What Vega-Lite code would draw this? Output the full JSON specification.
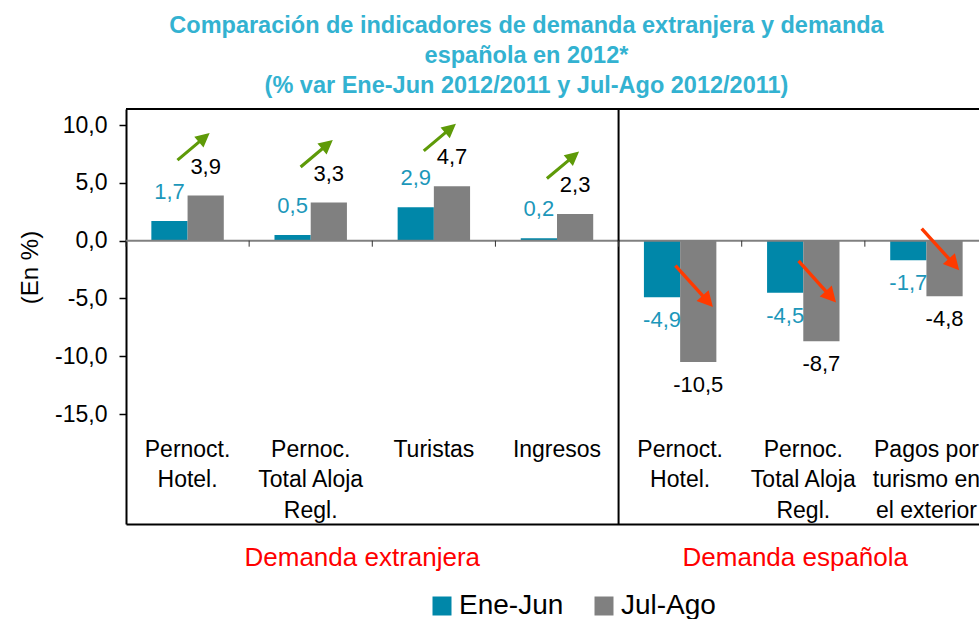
{
  "$schema": "https://vega.github.io/schema/vega-lite/v6.json",
  "autosize": {"type": "none"},
  "padding": {"left": 126, "top": 109, "right": 0, "bottom": 95},
  "width": 853,
  "height": 415,
  "background": "white",
  "title": {
    "text": ["Comparación de indicadores de demanda extranjera y demanda", "española en 2012*", "(% var Ene-Jun 2012/2011 y Jul-Ago 2012/2011)"],
    "font": "Liberation Sans",
    "fontSize": 23.5,
    "fontWeight": "bold",
    "color": "#33B2D1",
    "lineHeight": 30,
    "anchor": "middle",
    "frame": "group",
    "dx": -26,
    "offset": 11
  },
  "datasets": {
    "barras": [
      {"clave": "E1", "grupo": "Demanda extranjera", "indicador": "Pernoct.\nHotel.", "periodo": "Ene-Jun", "valor": 1.7},
      {"clave": "E1", "grupo": "Demanda extranjera", "indicador": "Pernoct.\nHotel.", "periodo": "Jul-Ago", "valor": 3.9},
      {"clave": "E2", "grupo": "Demanda extranjera", "indicador": "Pernoc.\nTotal Aloja\nRegl.", "periodo": "Ene-Jun", "valor": 0.5},
      {"clave": "E2", "grupo": "Demanda extranjera", "indicador": "Pernoc.\nTotal Aloja\nRegl.", "periodo": "Jul-Ago", "valor": 3.3},
      {"clave": "E3", "grupo": "Demanda extranjera", "indicador": "Turistas", "periodo": "Ene-Jun", "valor": 2.9},
      {"clave": "E3", "grupo": "Demanda extranjera", "indicador": "Turistas", "periodo": "Jul-Ago", "valor": 4.7},
      {"clave": "E4", "grupo": "Demanda extranjera", "indicador": "Ingresos", "periodo": "Ene-Jun", "valor": 0.2},
      {"clave": "E4", "grupo": "Demanda extranjera", "indicador": "Ingresos", "periodo": "Jul-Ago", "valor": 2.3},
      {"clave": "S1", "grupo": "Demanda española", "indicador": "Pernoct.\nHotel.", "periodo": "Ene-Jun", "valor": -4.9},
      {"clave": "S1", "grupo": "Demanda española", "indicador": "Pernoct.\nHotel.", "periodo": "Jul-Ago", "valor": -10.5},
      {"clave": "S2", "grupo": "Demanda española", "indicador": "Pernoc.\nTotal Aloja\nRegl.", "periodo": "Ene-Jun", "valor": -4.5},
      {"clave": "S2", "grupo": "Demanda española", "indicador": "Pernoc.\nTotal Aloja\nRegl.", "periodo": "Jul-Ago", "valor": -8.7},
      {"clave": "S3", "grupo": "Demanda española", "indicador": "Pagos por\nturismo en\nel exterior", "periodo": "Ene-Jun", "valor": -1.7},
      {"clave": "S3", "grupo": "Demanda española", "indicador": "Pagos por\nturismo en\nel exterior", "periodo": "Jul-Ago", "valor": -4.8}
    ],
    "grupos": [
      {"grupo": "Demanda extranjera"},
      {"grupo": "Demanda española"}
    ]
  },
  "data": {"name": "barras"},
  "layer": [
    {
      "mark": {"type": "bar"},
      "encoding": {
        "x": {
          "field": "clave", "type": "nominal",
          "scale": {"domain": ["E1", "E2", "E3", "E4", "S1", "S2", "S3"], "range": [0, 862], "paddingInner": 0, "paddingOuter": 0},
          "axis": {"labels": false, "ticks": false, "domain": true, "domainColor": "#000000", "domainWidth": 2, "title": null, "grid": false}
        },
        "xOffset": {
          "field": "periodo", "type": "nominal",
          "scale": {"domain": ["Ene-Jun", "Jul-Ago"], "paddingInner": 0, "paddingOuter": 0.7}
        },
        "y": {
          "field": "valor", "type": "quantitative",
          "title": "(En %)",
          "scale": {"domain": [-24.51, 11.39], "nice": false, "zero": false},
          "axis": {
            "values": [-15, -10, -5, 0, 5, 10],
            "format": ".1f",
            "grid": false,
            "domainColor": "#000000", "domainWidth": 2,
            "tickColor": "#000000", "tickSize": 7, "tickWidth": 1.5,
            "labelFontSize": 23, "labelColor": "#000000", "labelPadding": 12,
            "title": "(En %)",
            "titleFontSize": 24, "titleFontWeight": "normal", "titleColor": "#000000",
            "titleAngle": 270, "titleX": -96, "titleY": 158, "titleAlign": "center", "titleBaseline": "middle"
          }
        },
        "color": {
          "field": "periodo", "type": "nominal",
          "scale": {"domain": ["Ene-Jun", "Jul-Ago"], "range": ["#0087A9", "#808080"]},
          "legend": {
            "orient": "none", "legendX": 302, "legendY": 483, "direction": "horizontal",
            "title": null, "symbolType": "square", "symbolSize": 361, "symbolStrokeWidth": 0,
            "labelFontSize": 28, "labelColor": "#000000", "labelOffset": 3, "columnPadding": 26, "padding": 0
          }
        }
      }
    },
    {
      "data": {"values": [{}]},
      "mark": {"type": "rule", "color": "#808080", "strokeWidth": 2},
      "encoding": {"y": {"datum": 0, "type": "quantitative"}}
    },
    {
      "data": {"values": [{}]},
      "mark": {"type": "rule", "color": "#000000", "strokeWidth": 2},
      "encoding": {"y": {"datum": 11.39, "type": "quantitative"}}
    },
    {
      "data": {"values": [{}]},
      "mark": {"type": "rule", "color": "#000000", "strokeWidth": 2},
      "encoding": {"x": {"datum": "S1", "type": "nominal", "bandPosition": 0}}
    },
    {
      "transform": [{"filter": "datum.periodo === 'Ene-Jun'"}],
      "mark": {"type": "rule", "color": "#333333", "strokeWidth": 1},
      "encoding": {
        "x": {"field": "clave", "type": "nominal", "bandPosition": 0},
        "y": {"datum": 0, "type": "quantitative"},
        "y2": {"datum": -0.52}
      }
    },
    {
      "transform": [{"filter": "datum.periodo === 'Ene-Jun'"}],
      "mark": {"type": "text", "fontSize": 23, "color": "#000000", "align": "center", "baseline": "alphabetic", "lineBreak": "\n", "lineHeight": 30.3},
      "encoding": {
        "x": {"field": "clave", "type": "nominal"},
        "y": {"datum": -18.72, "type": "quantitative"},
        "text": {"field": "indicador"}
      }
    },
    {
      "data": {"name": "grupos"},
      "transform": [{"filter": "datum.grupo === 'Demanda extranjera'"}],
      "mark": {"type": "text", "fontSize": 26, "color": "#FF0000", "align": "center", "baseline": "alphabetic", "dx": -10},
      "encoding": {
        "x": {"datum": "E2", "type": "nominal", "bandPosition": 1},
        "y": {"datum": -28.12, "type": "quantitative"},
        "text": {"field": "grupo"}
      }
    },
    {
      "data": {"name": "grupos"},
      "transform": [{"filter": "datum.grupo === 'Demanda española'"}],
      "mark": {"type": "text", "fontSize": 26, "color": "#FF0000", "align": "center", "baseline": "alphabetic", "dx": -8},
      "encoding": {
        "x": {"datum": "S2", "type": "nominal", "bandPosition": 0.5},
        "y": {"datum": -28.12, "type": "quantitative"},
        "text": {"field": "grupo"}
      }
    },
    {
      "transform": [{"filter": "datum.valor >= 0"}],
      "mark": {"type": "text", "fontSize": 22, "align": "center", "baseline": "middle", "dy": -29},
      "encoding": {
        "x": {"field": "clave", "type": "nominal"},
        "xOffset": {"field": "periodo", "type": "nominal"},
        "y": {"field": "valor", "type": "quantitative"},
        "text": {"field": "valor", "type": "quantitative", "format": ".1f"},
        "color": {"condition": {"test": "datum.periodo === 'Ene-Jun'", "value": "#1C97BA"}, "value": "#000000"}
      }
    },
    {
      "transform": [{"filter": "datum.valor < 0"}],
      "mark": {"type": "text", "fontSize": 22, "align": "center", "baseline": "middle", "dy": 23},
      "encoding": {
        "x": {"field": "clave", "type": "nominal"},
        "xOffset": {"field": "periodo", "type": "nominal"},
        "y": {"field": "valor", "type": "quantitative"},
        "text": {"field": "valor", "type": "quantitative", "format": ".1f"},
        "color": {"condition": {"test": "datum.periodo === 'Ene-Jun'", "value": "#1C97BA"}, "value": "#000000"}
      }
    },
    {
      "transform": [{"filter": "datum.periodo === 'Jul-Ago' && datum.valor > 0"}],
      "mark": {"type": "point", "shape": "M-1,-0.075L0.33,-0.075L0.33,-0.34L1,0L0.33,0.34L0.33,0.075L-1,0.075Z", "size": 1764, "angle": -40, "filled": true, "opacity": 1, "strokeWidth": 0, "color": "#5E9A08", "xOffset": 6, "yOffset": -49},
      "encoding": {
        "x": {"field": "clave", "type": "nominal"},
        "y": {"field": "valor", "type": "quantitative"}
      }
    },
    {
      "transform": [{"filter": "datum.periodo === 'Ene-Jun' && datum.valor < 0"}],
      "mark": {"type": "point", "shape": "M-1,-0.06L0.45,-0.06L0.45,-0.29L1,0L0.45,0.29L0.45,0.06L-1,0.06Z", "size": 3136, "angle": 48, "filled": true, "opacity": 1, "strokeWidth": 0, "color": "#FF3A00", "xOffset": 14, "yOffset": -11},
      "encoding": {
        "x": {"field": "clave", "type": "nominal"},
        "y": {"field": "valor", "type": "quantitative"}
      }
    }
  ],
  "config": {
    "font": "Liberation Sans",
    "view": {"stroke": null},
    "locale": {"number": {"decimal": ",", "thousands": ".", "grouping": [3], "currency": ["", " €"], "minus": "-"}}
  }
}
